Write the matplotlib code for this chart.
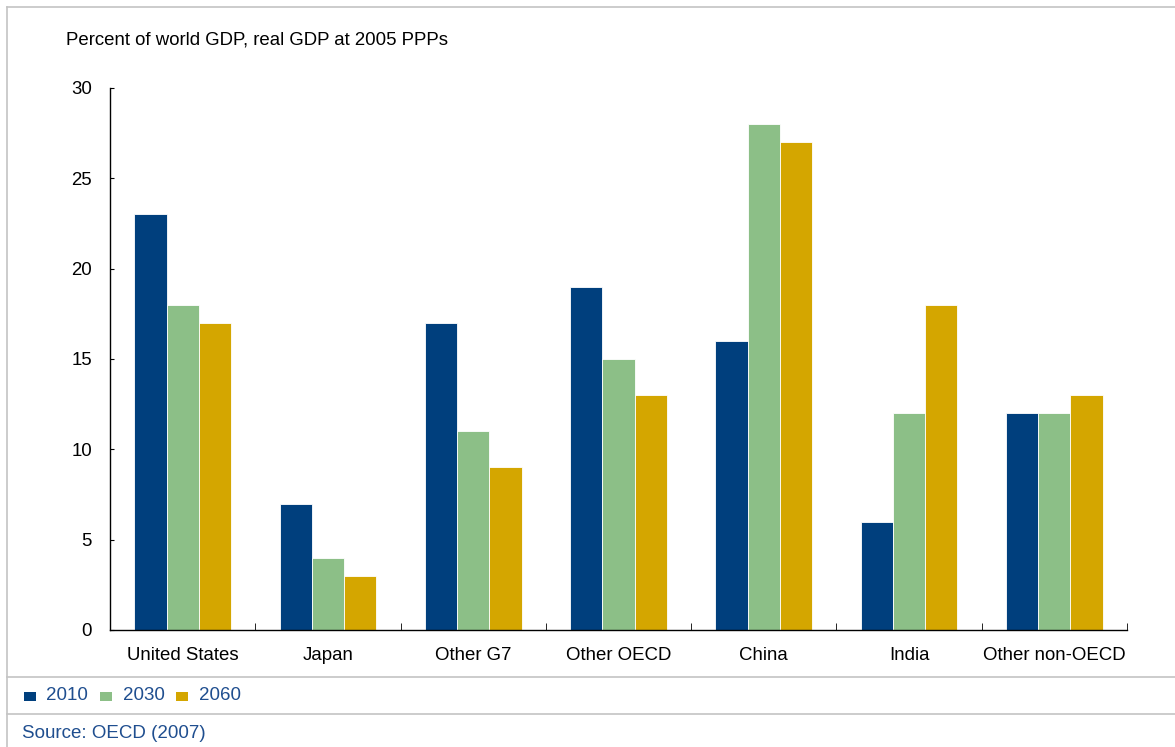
import numpy as np
import matplotlib.pyplot as plt
from matplotlib.lines import Line2D
from matplotlib.patches import Rectangle

plt.rcParams['font.family'] = ['Liberation Sans', 'DejaVu Sans']

categories = ["United States", "Japan", "Other G7", "Other OECD", "China", "India", "Other non-OECD"]
years = ["2010", "2030", "2060"]
share_2010 = [23, 7, 17, 19, 16, 6, 12]
share_2030 = [18, 4, 11, 15, 28, 12, 12]
share_2060 = [17, 3, 9, 13, 27, 18, 13]
colors = ["#003F7D", "#8CBF87", "#D4A600"]
text_blue = "#1F4E8F"

W, H = 1175, 747
fig = plt.figure(figsize=(W / 100, H / 100), dpi=100)
ax = fig.add_axes([110 / W, (H - 630) / H, (1127 - 110) / W, (630 - 88) / H])

x = np.arange(len(categories))
bw = 0.222
for i, vals in enumerate([share_2010, share_2030, share_2060]):
    ax.bar(x + (i - 1) * bw, vals, width=bw, color=colors[i], edgecolor="white", linewidth=0.6)

ax.set_xlim(-0.5, len(categories) - 0.5)
ax.set_ylim(0, 30)
ax.set_yticks(range(0, 31, 5))
ax.tick_params(axis="y", direction="in", length=3, labelsize=13.4, pad=13)
ax.set_xticks(x)
ax.set_xticklabels(categories, fontsize=13.4)
ax.tick_params(axis="x", length=0, pad=12)
# minor ticks between groups on the x axis
ax.set_xticks(np.arange(-0.5, len(categories)), minor=True)
ax.tick_params(axis="x", which="minor", direction="in", length=5)
for s in ["top", "right"]:
    ax.spines[s].set_visible(False)
for s in ["left", "bottom"]:
    ax.spines[s].set_linewidth(1.0)

fig.text(66 / W, 1 - 40 / H, "Percent of world GDP, real GDP at 2005 PPPs", fontsize=13.4, va="center")

# frame lines
grey = "#C4C4C4"
fig.add_artist(Line2D([7 / W, 1], [1 - 7 / H] * 2, color=grey, lw=1.2))
fig.add_artist(Line2D([7 / W] * 2, [0, 1 - 7 / H], color=grey, lw=1.2))
fig.add_artist(Line2D([7 / W, 1], [1 - 677 / H] * 2, color=grey, lw=1.2))
fig.add_artist(Line2D([7 / W, 1], [1 - 714 / H] * 2, color=grey, lw=1.2))

# legend
for sx, tx, c, lab in zip([24, 100, 176], [46, 123, 199], colors, years):
    fig.add_artist(Rectangle((sx / W, 1 - 701 / H), 12 / W, 9 / H, color=c, lw=0))
    fig.text(tx / W, 1 - 696 / H, lab, fontsize=13.5, color=text_blue, va="center")

fig.text(22 / W, 1 - 733 / H, "Source: OECD (2007)", fontsize=13.5, color=text_blue, va="center")

fig.savefig("out.png", dpi=100)
